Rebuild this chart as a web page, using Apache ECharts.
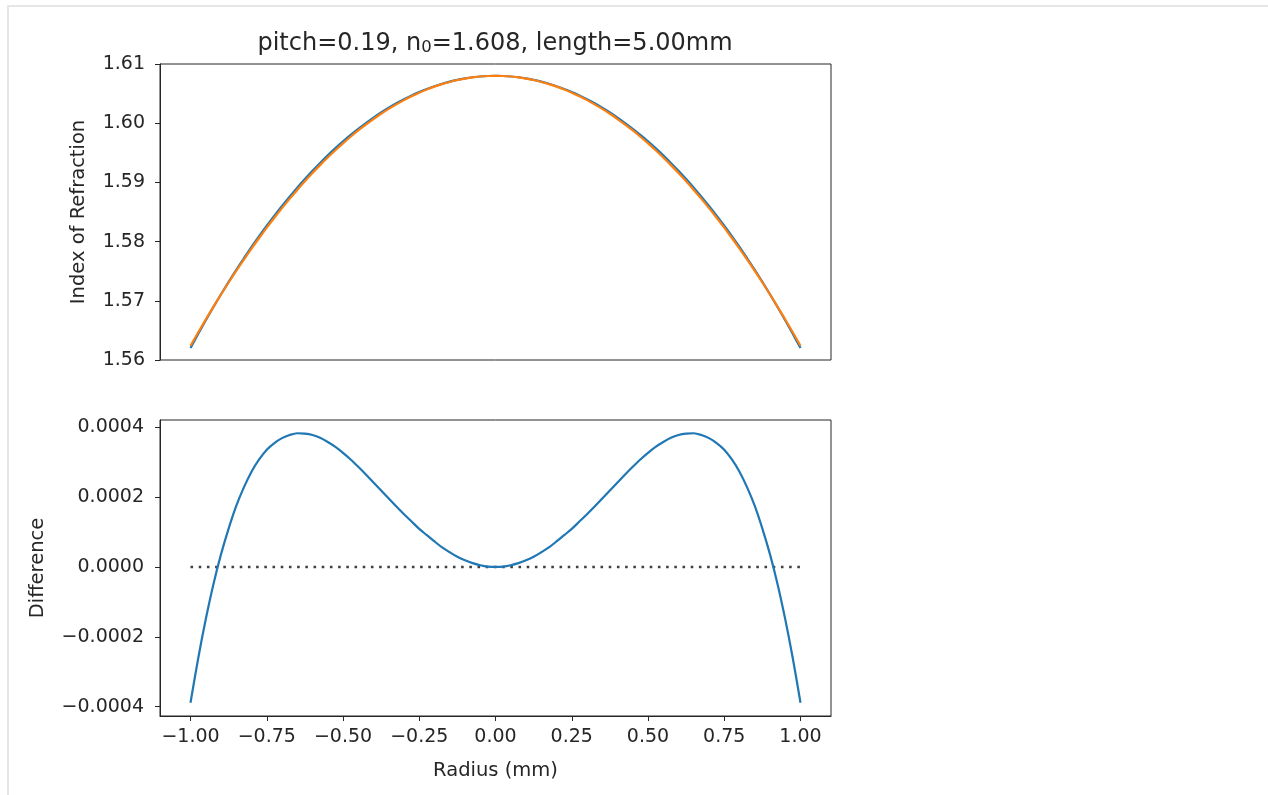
<!DOCTYPE html>
<html>
<head>
<meta charset="utf-8">
<script src="https://cdn.jsdelivr.net/npm/echarts@6/dist/echarts.min.js"></script>
<style>
html,body{margin:0;padding:0;background:#fff;}
#main{width:1268px;height:795px;}
</style>
</head>
<body>
<div id="main"></div>
<script>
// ---- data ----
const radius = [-1, -0.975, -0.95, -0.925, -0.9, -0.875, -0.85, -0.825, -0.8, -0.775, -0.75, -0.725, -0.7, -0.675, -0.65, -0.625, -0.6, -0.575, -0.55, -0.525,
  -0.5, -0.475, -0.45, -0.425, -0.4, -0.375, -0.35, -0.325, -0.3, -0.275, -0.25, -0.225, -0.2, -0.175, -0.15, -0.125, -0.1, -0.075, -0.05, -0.025,
  0,
  0.025, 0.05, 0.075, 0.1, 0.125, 0.15, 0.175, 0.2, 0.225, 0.25, 0.275, 0.3, 0.325, 0.35, 0.375, 0.4, 0.425, 0.45, 0.475, 0.5,
  0.525, 0.55, 0.575, 0.6, 0.625, 0.65, 0.675, 0.7, 0.725, 0.75, 0.775, 0.8, 0.825, 0.85, 0.875, 0.9, 0.925, 0.95, 0.975, 1];

// blue curve (index profile)
const indexProfile = [1.56201, 1.56439, 1.56670, 1.56893, 1.57110, 1.57320, 1.57523, 1.57719, 1.57909, 1.58092, 1.58269, 1.58439, 1.58603, 1.58760, 1.58912, 1.59057, 1.59196, 1.59329, 1.59456, 1.59578,
  1.59693, 1.59802, 1.59905, 1.60003, 1.60095, 1.60181, 1.60261, 1.60336, 1.60405, 1.60468, 1.60526, 1.60578, 1.60625, 1.60666, 1.60702, 1.60732, 1.60756, 1.60776, 1.60789, 1.60797,
  1.60800,
  1.60797, 1.60789, 1.60776, 1.60756, 1.60732, 1.60702, 1.60666, 1.60625, 1.60578, 1.60526, 1.60468, 1.60405, 1.60336, 1.60261, 1.60181, 1.60095, 1.60003, 1.59905, 1.59802, 1.59693,
  1.59578, 1.59456, 1.59329, 1.59196, 1.59057, 1.58912, 1.58760, 1.58603, 1.58439, 1.58269, 1.58092, 1.57909, 1.57719, 1.57523, 1.57320, 1.57110, 1.56893, 1.56670, 1.56439, 1.56201];

// orange curve (parabolic approximation)
const indexParabolic = [1.56240, 1.56465, 1.56685, 1.56898, 1.57106, 1.57309, 1.57505, 1.57696, 1.57882, 1.58061, 1.58235, 1.58403, 1.58566, 1.58722, 1.58873, 1.59019, 1.59158, 1.59292, 1.59421, 1.59543,
  1.59660, 1.59771, 1.59877, 1.59976, 1.60070, 1.60159, 1.60241, 1.60318, 1.60390, 1.60455, 1.60515, 1.60569, 1.60618, 1.60660, 1.60697, 1.60729, 1.60754, 1.60774, 1.60789, 1.60797,
  1.60800,
  1.60797, 1.60789, 1.60774, 1.60754, 1.60729, 1.60697, 1.60660, 1.60618, 1.60569, 1.60515, 1.60455, 1.60390, 1.60318, 1.60241, 1.60159, 1.60070, 1.59976, 1.59877, 1.59771, 1.59660,
  1.59543, 1.59421, 1.59292, 1.59158, 1.59019, 1.58873, 1.58722, 1.58566, 1.58403, 1.58235, 1.58061, 1.57882, 1.57696, 1.57505, 1.57309, 1.57106, 1.56898, 1.56685, 1.56465, 1.56240];

// difference curve
const difference = [-3.89e-4, -2.63e-4, -1.50e-4, -0.50e-4, 0.36e-4, 1.10e-4, 1.75e-4, 2.28e-4, 2.73e-4, 3.08e-4, 3.36e-4, 3.55e-4, 3.69e-4, 3.78e-4, 3.83e-4, 3.82e-4, 3.78e-4, 3.70e-4, 3.58e-4, 3.44e-4,
  3.27e-4, 3.08e-4, 2.87e-4, 2.65e-4, 2.42e-4, 2.19e-4, 1.96e-4, 1.73e-4, 1.51e-4, 1.30e-4, 1.09e-4, 0.91e-4, 0.73e-4, 0.56e-4, 0.42e-4, 0.29e-4, 0.19e-4, 0.11e-4, 0.05e-4, 0.01e-4,
  0,
  0.01e-4, 0.05e-4, 0.11e-4, 0.19e-4, 0.29e-4, 0.42e-4, 0.56e-4, 0.73e-4, 0.91e-4, 1.09e-4, 1.30e-4, 1.51e-4, 1.73e-4, 1.96e-4, 2.19e-4, 2.42e-4, 2.65e-4, 2.87e-4, 3.08e-4, 3.27e-4,
  3.44e-4, 3.58e-4, 3.70e-4, 3.78e-4, 3.82e-4, 3.83e-4, 3.78e-4, 3.69e-4, 3.55e-4, 3.36e-4, 3.08e-4, 2.73e-4, 2.28e-4, 1.75e-4, 1.10e-4, 0.36e-4, -0.50e-4, -1.50e-4, -2.63e-4, -3.89e-4];

const zeroLineX = [-1, 1];
const zeroLineY = [0, 0];

const xTicks = [-1, -0.75, -0.5, -0.25, 0, 0.25, 0.5, 0.75, 1];
const topYTicks = [1.56, 1.57, 1.58, 1.59, 1.60, 1.61];
const bottomYTicks = [-0.0004, -0.0002, 0, 0.0002, 0.0004];

const titleParts = ['pitch=0.19, n', '0', '=1.608, length=5.00mm'];
const topYName = 'Index of Refraction';
const bottomYName = 'Difference';
const xName = 'Radius (mm)';

// ---- chart ----
const FONT = 'DejaVu Sans';
const TXT = '#262626';
const AXC = '#262626';
const FS = 19;
const zip = (xs, ys) => xs.map((x, i) => [x, ys[i]]);
const minus = s => s.replace('-', '\u2212');

const chart = echarts.init(document.getElementById('main'), null, {renderer: 'canvas'});

const baseAxisLabel = {color: TXT, fontFamily: FONT, fontSize: FS};
const nameStyle = {color: TXT, fontFamily: FONT, fontSize: 19.5};

chart.setOption({
  animation: false,
  backgroundColor: '#fff',
  graphic: [
    {type: 'polyline', silent: true, shape: {points: [[8, 795], [8, 6], [1268, 6]]},
     style: {stroke: '#e6e6e6', lineWidth: 2, fill: null}},
    {type: 'text', x: 495, y: 42, silent: true,
     style: {
       text: '{a|' + titleParts[0] + '}{s|' + titleParts[1] + '}{a|' + titleParts[2] + '}',
       align: 'center', verticalAlign: 'middle',
       rich: {
         a: {fontFamily: FONT, fontSize: 24, fill: TXT, lineHeight: 28, verticalAlign: 'bottom'},
         s: {fontFamily: FONT, fontSize: 16.5, fill: TXT, lineHeight: 18, verticalAlign: 'bottom'}
       }
     }}
  ],
  grid: [
    {left: 160, top: 64, width: 671, height: 296, show: true, borderColor: AXC, borderWidth: 1, backgroundColor: 'transparent'},
    {left: 160, top: 420, width: 671, height: 296, show: true, borderColor: AXC, borderWidth: 1, backgroundColor: 'transparent'}
  ],
  xAxis: [
    {type: 'value', gridIndex: 0, min: -1.1, max: 1.1,
     axisLine: {show: false, onZero: false}, axisTick: {show: false}, axisLabel: {show: false}, splitLine: {show: false}},
    {type: 'value', gridIndex: 1, min: -1.1, max: 1.1,
     name: xName, nameLocation: 'middle', nameGap: 45, nameTextStyle: nameStyle,
     axisLine: {show: true, onZero: false, lineStyle: {color: AXC, width: 1}},
     axisTick: {show: true, length: 5, lineStyle: {color: AXC, width: 1}, customValues: xTicks},
     axisLabel: Object.assign({}, baseAxisLabel, {margin: 12, customValues: xTicks,
       formatter: v => minus(v.toFixed(2))}),
     splitLine: {show: false}}
  ],
  yAxis: [
    {type: 'value', gridIndex: 0, min: 1.56, max: 1.61,
     name: topYName, nameLocation: 'middle', nameGap: 71, nameTextStyle: nameStyle,
     axisLine: {show: true, onZero: false, lineStyle: {color: AXC, width: 1}},
     axisTick: {show: true, length: 5, lineStyle: {color: AXC, width: 1}, customValues: topYTicks},
     axisLabel: Object.assign({}, baseAxisLabel, {margin: 15, customValues: topYTicks,
       formatter: v => v.toFixed(2)}),
     splitLine: {show: false}},
    {type: 'value', gridIndex: 1, min: -0.000427, max: 0.000421,
     name: bottomYName, nameLocation: 'middle', nameGap: 112, nameTextStyle: nameStyle,
     axisLine: {show: true, onZero: false, lineStyle: {color: AXC, width: 1}},
     axisTick: {show: true, length: 5, lineStyle: {color: AXC, width: 1}, customValues: bottomYTicks},
     axisLabel: Object.assign({}, baseAxisLabel, {margin: 16, customValues: bottomYTicks,
       formatter: v => minus((Math.abs(v) < 1e-12 ? 0 : v).toFixed(4))}),
     splitLine: {show: false}}
  ],
  series: [
    {type: 'line', xAxisIndex: 0, yAxisIndex: 0, data: zip(radius, indexProfile),
     showSymbol: false, smooth: 0.3, lineStyle: {color: '#1f77b4', width: 2.2}, z: 2},
    {type: 'line', xAxisIndex: 0, yAxisIndex: 0, data: zip(radius, indexParabolic),
     showSymbol: false, smooth: 0.3, lineStyle: {color: '#ff7f0e', width: 2.2}, z: 3},
    {type: 'line', xAxisIndex: 1, yAxisIndex: 1, data: zip(zeroLineX, zeroLineY),
     showSymbol: false, lineStyle: {color: '#404040', width: 2.6, type: [2.6, 5.6], cap: 'butt'}, z: 2},
    {type: 'line', xAxisIndex: 1, yAxisIndex: 1, data: zip(radius, difference),
     showSymbol: false, smooth: 0.3, lineStyle: {color: '#1f77b4', width: 2.2}, z: 3}
  ]
});
</script>
</body>
</html>
